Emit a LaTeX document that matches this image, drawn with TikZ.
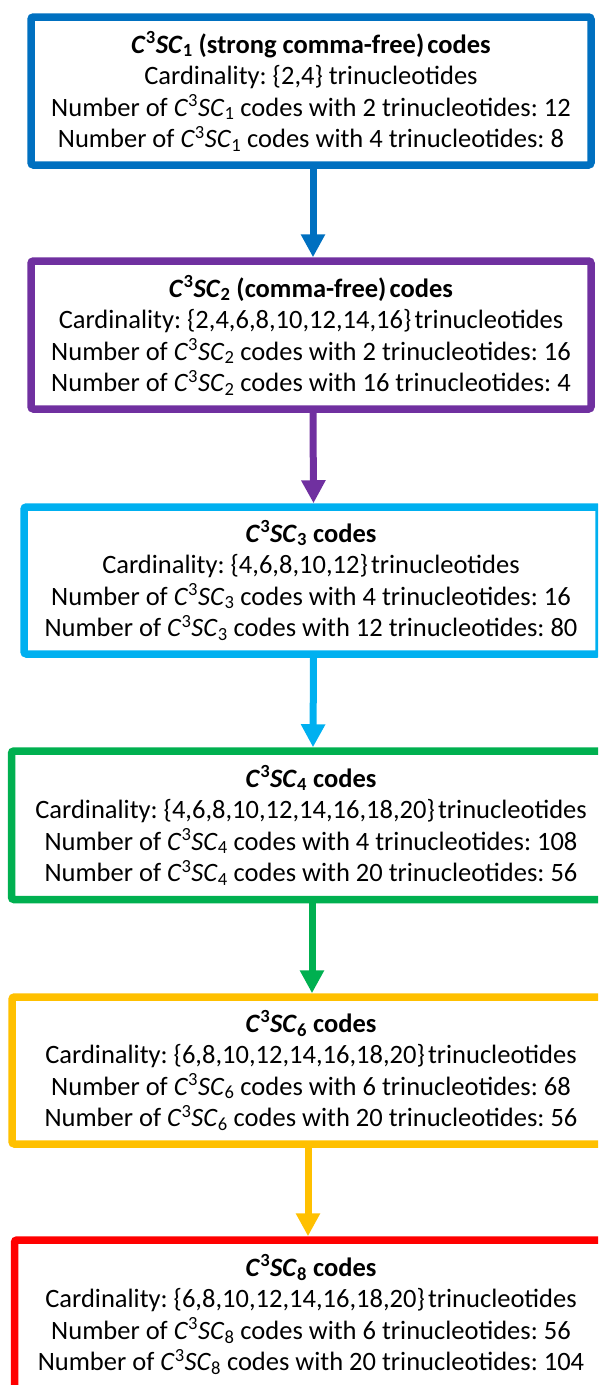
\documentclass[tikz,border=0pt]{standalone}
\usepackage{fontspec}
\setmainfont{Carlito}
\usetikzlibrary{arrows.meta}
\frenchspacing
\definecolor{cA}{HTML}{0070C0}
\definecolor{cB}{HTML}{7030A0}
\definecolor{cC}{HTML}{00B0F0}
\definecolor{cD}{HTML}{00B050}
\definecolor{cE}{HTML}{FFC000}
\definecolor{cF}{HTML}{FF0000}
\newcommand{\cscode}[1]{\textit{C}\textsuperscript{3}\textit{SC}\textsubscript{#1}}
\newcommand{\tsp}{\hspace{0.12em}}
\newcommand{\fourlines}[4]{\begin{tabular}[t]{@{}c@{}}#1\\#2\\#3\\#4\end{tabular}}
\tikzset{
  box/.style={draw=#1, line width=7.5pt, rounded corners=2.5pt, inner sep=0pt, minimum height=148pt},
  arr/.style={draw=#1, line width=7pt, -{Triangle[width=23pt,length=23pt]}},
  txt/.style={anchor=base, inner sep=0pt, font=\fontsize{26.5}{31.5}\selectfont\frenchspacing}
}
\begin{document}
\begin{tikzpicture}
\useasboundingbox (0,0) rectangle (598pt,-1385pt);
\clip (0,0) rectangle (598pt,-1385pt);
% boxes
\node[box=cA, minimum width=560pt] (b1) at (311pt,-91pt) {};
\node[box=cB, minimum width=560pt] (b2) at (311pt,-335pt) {};
\node[box=cC, minimum width=575pt, minimum height=147pt] (b3) at (311.5pt,-580.5pt) {};
\node[box=cD, minimum width=599pt, minimum height=148.5pt] (b4) at (311pt,-825.25pt) {};
\node[box=cE, minimum width=598pt, minimum height=147pt] (b5) at (311pt,-1070.5pt) {};
\node[box=cF, minimum width=593pt, minimum height=160pt] (b6) at (311pt,-1320pt) {};
% texts
\node[txt] (t1) at (311pt,-53pt) {\fourlines
  {\textbf{\cscode{1} (strong comma-free)\tsp codes}}
  {Cardinality: \{2,4\} trinucleotides}
  {Number of \cscode{1} codes with 2 trinucleotides: 12}
  {Number of \cscode{1} codes with 4 trinucleotides: 8}};
\node[txt] (t2) at (311pt,-297pt) {\fourlines
  {\textbf{\cscode{2} (comma-free)\tsp codes}}
  {Cardinality: \{2,4,6,8,10,12,14,16\}\tsp trinucleotides}
  {Number of \cscode{2} codes with 2 trinucleotides: 16}
  {Number of \cscode{2} codes with 16 trinucleotides: 4}};
\node[txt] (t3) at (311pt,-542pt) {\fourlines
  {\textbf{\cscode{3} codes}}
  {Cardinality: \{4,6,8,10,12\}\tsp trinucleotides}
  {Number of \cscode{3} codes with 4 trinucleotides: 16}
  {Number of \cscode{3} codes with 12 trinucleotides: 80}};
\node[txt] (t4) at (311pt,-787pt) {\fourlines
  {\textbf{\cscode{4} codes}}
  {Cardinality: \{4,6,8,10,12,14,16,18,20\}\tsp trinucleotides}
  {Number of \cscode{4} codes with 4 trinucleotides: 108}
  {Number of \cscode{4} codes with 20 trinucleotides: 56}};
\node[txt] (t5) at (311pt,-1032pt) {\fourlines
  {\textbf{\cscode{6} codes}}
  {Cardinality: \{6,8,10,12,14,16,18,20\}\tsp trinucleotides}
  {Number of \cscode{6} codes with 6 trinucleotides: 68}
  {Number of \cscode{6} codes with 20 trinucleotides: 56}};
\node[txt] (t6) at (311pt,-1276pt) {\fourlines
  {\textbf{\cscode{8} codes}}
  {Cardinality: \{6,8,10,12,14,16,18,20\}\tsp trinucleotides}
  {Number of \cscode{8} codes with 6 trinucleotides: 56}
  {Number of \cscode{8} codes with 20 trinucleotides: 104}};
% arrows
\draw[arr=cA] ([xshift=2pt]b1.south) -- ([xshift=2pt]b2.north);
\draw[arr=cB] ([xshift=2pt]b2.south) -- ([xshift=2pt]b3.north);
\draw[arr=cC] ([xshift=2pt]b3.south) -- ([xshift=2pt]b4.north);
\draw[arr=cD] ([xshift=1pt]b4.south) -- ([xshift=1pt]b5.north);
\draw[arr=cE] ([xshift=-3pt]b5.south) -- ([xshift=-3pt]b6.north);
\end{tikzpicture}
\end{document}
